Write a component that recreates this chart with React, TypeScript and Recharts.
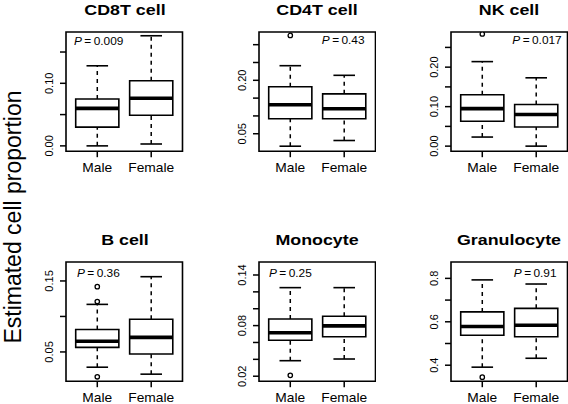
import React from "react";
import { ComposedChart, ReferenceArea, ReferenceLine, Scatter, XAxis, YAxis } from "recharts";

const FONT = '"Liberation Sans", Arial, Helvetica, sans-serif';

const groups = ["Male", "Female"];
const panelTitles = ["CD8T cell", "CD4T cell", "NK cell", "B cell", "Monocyte", "Granulocyte"];
const pValues = ["0.009", "0.43", "0.017", "0.36", "0.25", "0.91"];

// each row: [Male, Female]
const lowerWhisker = [[0.0, 0.003], [0.015, 0.031], [0.023, 0.0], [0.0285, 0.0187], [0.0384, 0.0404], [0.391, 0.432]];
const q1 = [[0.030, 0.049], [0.092, 0.092], [0.063, 0.0485], [0.0565, 0.047], [0.0626, 0.0668], [0.538, 0.531]];
const medians = [[0.060, 0.076], [0.1315, 0.120], [0.095, 0.080], [0.065, 0.0705], [0.0715, 0.0797], [0.578, 0.584]];
const q3 = [[0.075, 0.104], [0.182, 0.162], [0.130, 0.1055], [0.0817, 0.096], [0.0879, 0.091], [0.6456, 0.662]];
const upperWhisker = [[0.128, 0.176], [0.241, 0.214], [0.214, 0.173], [0.117, 0.156], [0.125, 0.125], [0.793, 0.774]];
const outliers = [[[], []], [[0.326], []], [[0.284], []], [[0.142, 0.121, 0.015], []], [[0.021], []], [[0.345], []]];

const yDomains = [[-0.0085, 0.182], [0.001, 0.3356], [-0.0128, 0.289], [0.0088, 0.1767], [0.0141, 0.1554], [0.3264, 0.8754]];
const yTicks = [
  [0, 0.05, 0.1, 0.15],
  [0.05, 0.1, 0.15, 0.2, 0.25, 0.3],
  [0, 0.05, 0.1, 0.15, 0.2, 0.25],
  [0.05, 0.1, 0.15],
  [0.02, 0.04, 0.06, 0.08, 0.1, 0.12, 0.14],
  [0.4, 0.5, 0.6, 0.7, 0.8],
];
const yLabelled = [[0, 0.1], [0.05, 0.2], [0, 0.1, 0.2], [0.05, 0.15], [0.02, 0.08, 0.14], [0.4, 0.6, 0.8]];
const yDigits = [2, 2, 2, 2, 2, 1];

const X_DOMAIN = [0.42, 2.58];
const frameLefts = [66.3, 258.7, 450.7];
const frameTops = [32, 262.3];
const FRAME_W = 116.5;
const FRAME_H = 119.2;
const Y_AXIS_W = 60;
const X_AXIS_H = 30;
const TOP_PAD = 4;
// P-value label placement: [anchor side, x, y centre]
const pPos: [string, number, number][] = [
  ["left", 74, 41],
  ["right", 365, 40],
  ["right", 562, 40],
  ["left", 76.7, 272.5],
  ["left", 268.7, 272.5],
  ["right", 557, 272.5],
];

function BoxPanel({ idx }: { idx: number }) {
  const col = idx % 3;
  const row = Math.floor(idx / 3);
  const left = frameLefts[col] - Y_AXIS_W;
  const top = frameTops[row] - TOP_PAD;
  const width = Y_AXIS_W + FRAME_W + 1;
  const height = TOP_PAD + FRAME_H + X_AXIS_H;
  const dom = yDomains[idx];
  const pts = groups.flatMap((_, g) => outliers[idx][g].map((v) => ({ x: g + 1, y: v })));

  const yTick = (props: any) => {
    const { x, y, payload } = props;
    const show = yLabelled[idx].some((v) => Math.abs(v - payload.value) < 1e-9);
    if (!show) return <g />;
    return (
      <text
        transform={`translate(${x - 5},${y}) rotate(-90)`}
        textAnchor="middle"
        fontSize={11}
        fontFamily={FONT}
        fill="#000"
      >
        {payload.value.toFixed(yDigits[idx])}
      </text>
    );
  };

  const xTick = (props: any) => {
    const { x, y, payload } = props;
    return (
      <text
        transform={`translate(${x},${y + 12.7}) scale(1.15,1)`}
        textAnchor="middle"
        fontSize={12}
        fontFamily={FONT}
        fill="#000"
      >
        {groups[payload.value - 1]}
      </text>
    );
  };

  return (
    <div style={{ position: "absolute", left, top, width, height }}>
      <ComposedChart width={width} height={height} data={pts} margin={{ top: TOP_PAD, right: 1, bottom: 0, left: 0 }}>
        <XAxis
          type="number"
          dataKey="x"
          domain={X_DOMAIN}
          allowDataOverflow
          ticks={[1, 2]}
          interval={0}
          axisLine={false}
          tickSize={6}
          tickLine={{ stroke: "#000", strokeWidth: 1.5 }}
          tick={xTick}
          height={X_AXIS_H}
        />
        <YAxis
          type="number"
          dataKey="y"
          domain={dom}
          allowDataOverflow
          ticks={yTicks[idx]}
          interval={0}
          axisLine={false}
          tickSize={6}
          tickLine={{ stroke: "#000", strokeWidth: 1.5 }}
          tick={yTick}
          width={Y_AXIS_W}
        />
        {groups.map((_, g) => (
          <ReferenceLine
            key={`wu${g}`}
            segment={[{ x: g + 1, y: q3[idx][g] }, { x: g + 1, y: upperWhisker[idx][g] }]}
            stroke="#000"
            strokeWidth={1.5}
            strokeDasharray="4 4"
          />
        ))}
        {groups.map((_, g) => (
          <ReferenceLine
            key={`wl${g}`}
            segment={[{ x: g + 1, y: lowerWhisker[idx][g] }, { x: g + 1, y: q1[idx][g] }]}
            stroke="#000"
            strokeWidth={1.5}
            strokeDasharray="4 4"
          />
        ))}
        {groups.map((_, g) => (
          <ReferenceLine
            key={`cu${g}`}
            segment={[{ x: g + 0.8, y: upperWhisker[idx][g] }, { x: g + 1.2, y: upperWhisker[idx][g] }]}
            stroke="#000"
            strokeWidth={1.6}
          />
        ))}
        {groups.map((_, g) => (
          <ReferenceLine
            key={`cl${g}`}
            segment={[{ x: g + 0.8, y: lowerWhisker[idx][g] }, { x: g + 1.2, y: lowerWhisker[idx][g] }]}
            stroke="#000"
            strokeWidth={1.6}
          />
        ))}
        {groups.map((_, g) => (
          <ReferenceArea
            key={`b${g}`}
            x1={g + 0.6}
            x2={g + 1.4}
            y1={q1[idx][g]}
            y2={q3[idx][g]}
            fill="#fff"
            fillOpacity={1}
            stroke="#000"
            strokeWidth={1.6}
          />
        ))}
        {groups.map((_, g) => (
          <ReferenceLine
            key={`m${g}`}
            segment={[{ x: g + 0.6, y: medians[idx][g] }, { x: g + 1.4, y: medians[idx][g] }]}
            stroke="#000"
            strokeWidth={3.6}
          />
        ))}
        <Scatter
          dataKey="y"
          isAnimationActive={false}
          shape={(p: any) => <circle cx={p.cx} cy={p.cy} r={2.2} fill="#fff" stroke="#000" strokeWidth={1.3} />}
        />
        <ReferenceArea
          x1={X_DOMAIN[0]}
          x2={X_DOMAIN[1]}
          y1={dom[0]}
          y2={dom[1]}
          fill="none"
          stroke="#000"
          strokeWidth={1.6}
          ifOverflow="visible"
        />
      </ComposedChart>
    </div>
  );
}

export default function App() {
  return (
    <div
      style={{
        position: "absolute",
        left: 0,
        top: 0,
        width: 568,
        height: 404,
        overflow: "hidden",
        background: "#fff",
        fontFamily: FONT,
      }}
    >
      <div
        style={{
          position: "absolute",
          left: 12.9 - 150,
          top: 216.5 - 15,
          width: 300,
          height: 30,
          lineHeight: "30px",
          fontSize: 23,
          textAlign: "center",
          transform: "rotate(-90deg)",
          whiteSpace: "nowrap",
        }}
      >
        Estimated cell proportion
      </div>
      {panelTitles.map((t, i) => {
        const cx = frameLefts[i % 3] + FRAME_W / 2;
        const top = i < 3 ? 0 : 229.6;
        return (
          <div
            key={t}
            style={{
              position: "absolute",
              left: cx - 80,
              top,
              width: 160,
              height: 20,
              lineHeight: "20px",
              fontSize: 15.5,
              fontWeight: "bold",
              textAlign: "center",
              transform: "scaleX(1.15)",
              whiteSpace: "nowrap",
            }}
          >
            {t}
          </div>
        );
      })}
      {pValues.map((pv, i) => {
        const [side, x, y] = pPos[i];
        const style: React.CSSProperties = {
          position: "absolute",
          top: y - 8,
          height: 16,
          lineHeight: "16px",
          fontSize: 11,
          whiteSpace: "nowrap",
          transform: "scaleX(1.08)",
          transformOrigin: side === "left" ? "left center" : "right center",
        };
        if (side === "left") style.left = x;
        else style.right = 568 - x;
        return (
          <div key={i} style={style}>
            <i>P</i>
            {"\u2009=\u2009"}
            {pv}
          </div>
        );
      })}
      {panelTitles.map((t, i) => (
        <BoxPanel key={t} idx={i} />
      ))}
    </div>
  );
}
